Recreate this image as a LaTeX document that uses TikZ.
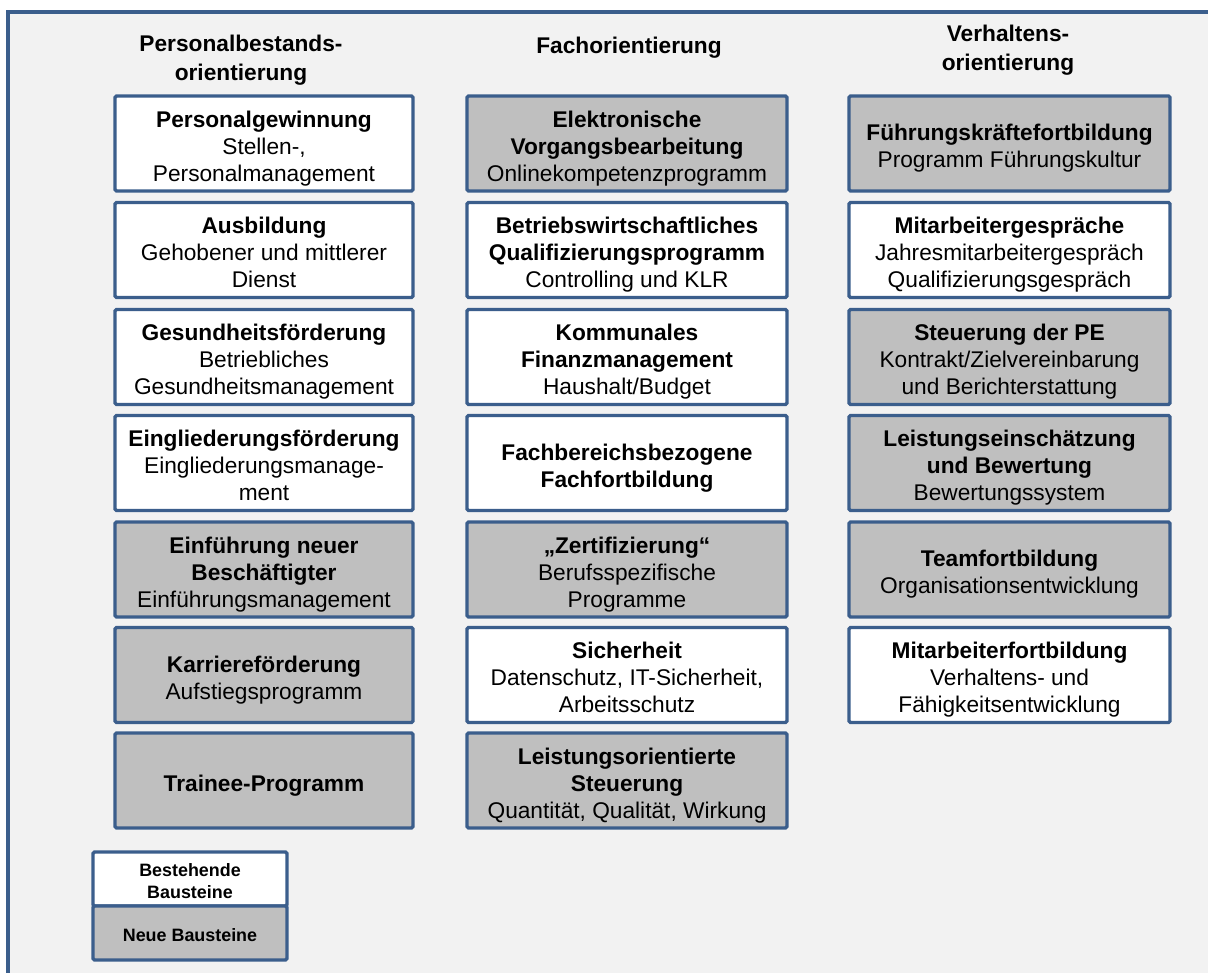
\documentclass[tikz,border=0pt]{standalone}
\usepackage{fontspec}
\setmainfont{Liberation Sans}
\definecolor{frameblue}{HTML}{3B5E8C}
\definecolor{bggray}{HTML}{F2F2F2}
\definecolor{newgray}{HTML}{BFBFBF}
\newcommand{\topstr}{\rule{0pt}{1.15em}}
\newcommand{\botstr}{\rule[-0.22em]{0pt}{0.22em}}
\begin{document}
\begin{tikzpicture}[x=1pt,y=-1pt,
  box/.style={draw=frameblue, line width=3.2pt, rounded corners=1.5pt, inner sep=0pt, align=center,
    minimum height=95pt, font=\fontsize{22.7}{27}\selectfont},
  oldbox/.style={box, fill=white},
  newbox/.style={box, fill=newgray},
  colA/.style={minimum width=298pt},
  colB/.style={minimum width=320pt},
  colC/.style={minimum width=321pt},
  coltitle/.style={font=\fontsize{22.7}{29}\selectfont\bfseries, align=center, inner sep=0pt},
  legendbox/.style={draw=frameblue, line width=3.2pt, rounded corners=1.5pt, inner sep=0pt, align=center,
    minimum width=194pt, minimum height=54pt, font=\fontsize{17.9}{22}\selectfont\bfseries}]
\useasboundingbox (0,0) rectangle (1208,973);
\fill[white] (0,0) rectangle (1208,973);
\begin{scope}
  \clip (0,0) rectangle (1208,973);
  \draw[frameblue, line width=3.6pt, fill=bggray] (8,12) rectangle (1240,1000);
\end{scope}

% column titles
\node[coltitle] (t1) at (241,60) {Personalbestands-\\orientierung};
\node[coltitle] (t2) at (629,47.5) {Fachorientierung};
\node[coltitle] (t3) at (1008,50) {Verhaltens-\\orientierung};

% column 1
\node[oldbox,colA] (a1) at (264,143.5) {\topstr\textbf{Personalgewinnung}\\Stellen-,\\Personalmanagement\botstr};
\node[oldbox,colA] (a2) at (264,250) {\topstr\textbf{Ausbildung}\\Gehobener und mittlerer\\Dienst\botstr};
\node[oldbox,colA] (a3) at (264,357) {\topstr\textbf{Gesundheitsförderung}\\Betriebliches\\Gesundheitsmanagement\botstr};
\node[oldbox,colA] (a4) at (264,463) {\topstr\textbf{Eingliederungsförderung}\\Eingliederungsmanage-\\ment\botstr};
\node[newbox,colA] (a5) at (264,569.5) {\topstr\textbf{Einführung neuer}\\\textbf{Beschäftigter}\\Einführungsmanagement\botstr};
\node[newbox,colA] (a6) at (264,675) {\topstr\textbf{Karriereförderung}\\Aufstiegsprogramm\botstr};
\node[newbox,colA] (a7) at (264,780.5) {\topstr\textbf{Trainee-Programm}\botstr};

% column 2
\node[newbox,colB] (b1) at (627,143.5) {\topstr\textbf{Elektronische}\\\textbf{Vorgangsbearbeitung}\\Onlinekompetenzprogramm\botstr};
\node[oldbox,colB] (b2) at (627,250) {\topstr\textbf{Betriebswirtschaftliches}\\\textbf{Qualifizierungsprogramm}\\Controlling und KLR\botstr};
\node[oldbox,colB] (b3) at (627,357) {\topstr\textbf{Kommunales}\\\textbf{Finanzmanagement}\\Haushalt/Budget\botstr};
\node[oldbox,colB] (b4) at (627,463) {\topstr\textbf{Fachbereichsbezogene}\\\textbf{Fachfortbildung}\botstr};
\node[newbox,colB] (b5) at (627,569.5) {\topstr\textbf{„Zertifizierung“}\\Berufsspezifische\\Programme\botstr};
\node[oldbox,colB] (b6) at (627,675) {\topstr\textbf{Sicherheit}\\Datenschutz, IT-Sicherheit,\\Arbeitsschutz\botstr};
\node[newbox,colB] (b7) at (627,780.5) {\topstr\textbf{Leistungsorientierte}\\\textbf{Steuerung}\\Quantität, Qualität, Wirkung\botstr};

% column 3
\node[newbox,colC] (c1) at (1009.5,143.5) {\topstr\textbf{Führungskräftefortbildung}\\Programm Führungskultur\botstr};
\node[oldbox,colC] (c2) at (1009.5,250) {\topstr\textbf{Mitarbeitergespräche}\\Jahresmitarbeitergespräch\\Qualifizierungsgespräch\botstr};
\node[newbox,colC] (c3) at (1009.5,357) {\topstr\textbf{Steuerung der PE}\\Kontrakt/Zielvereinbarung\\und Berichterstattung\botstr};
\node[newbox,colC] (c4) at (1009.5,463) {\topstr\textbf{Leistungseinschätzung}\\\textbf{und Bewertung}\\Bewertungssystem\botstr};
\node[newbox,colC] (c5) at (1009.5,569.5) {\topstr\textbf{Teamfortbildung}\\Organisationsentwicklung\botstr};
\node[oldbox,colC] (c6) at (1009.5,675) {\topstr\textbf{Mitarbeiterfortbildung}\\Verhaltens- und\\Fähigkeitsentwicklung\botstr};

% legend
\node[legendbox, fill=white] (l1) at (190,879) {\topstr Bestehende\\Bausteine\botstr};
\node[legendbox, fill=newgray] (l2) at (190,933) {\topstr Neue Bausteine\botstr};
\end{tikzpicture}
\end{document}
